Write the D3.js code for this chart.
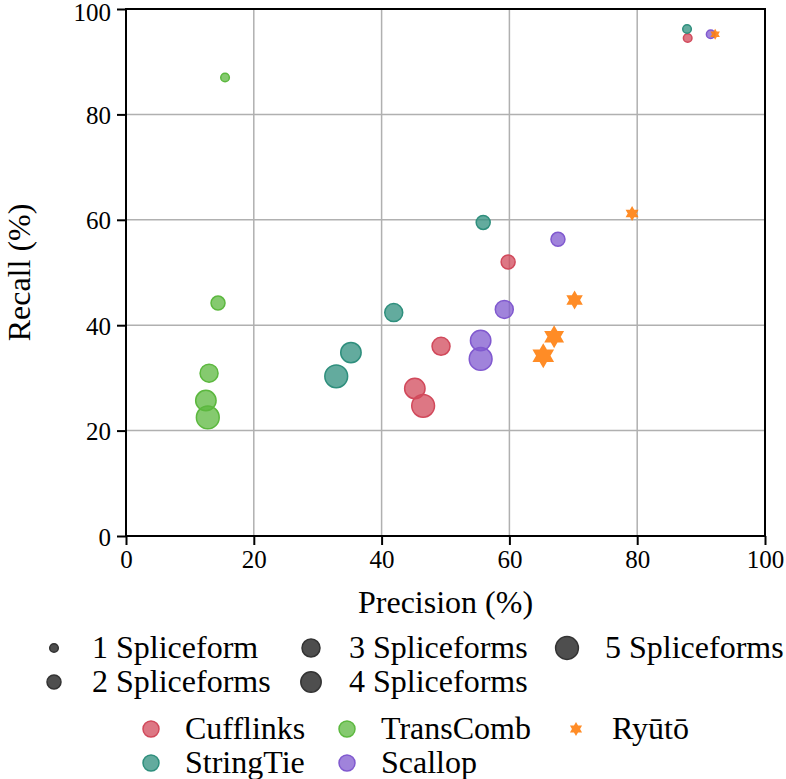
<!DOCTYPE html>
<html>
<head>
<meta charset="utf-8">
<script src="https://cdn.jsdelivr.net/npm/d3@7"></script>
</head>
<body style="margin:0;padding:0;background:#fff">
<svg id="chart" width="786" height="779" style="display:block"></svg>
<script>
// ---- data ----
const levels = [1, 2, 3, 4, 5];
const sizeLabels = ["1 Spliceform", "2 Spliceforms", "3 Spliceforms", "4 Spliceforms", "5 Spliceforms"];
const tools = ["Cufflinks", "StringTie", "TransComb", "Scallop", "Ryūtō"];
const cufflinksPrecision = [87.9, 59.8, 49.3, 45.2, 46.5];
const cufflinksRecall    = [94.5, 52.0, 36.0, 28.0, 24.7];
const stringtiePrecision = [87.8, 55.9, 41.9, 35.2, 32.9];
const stringtieRecall    = [96.2, 59.5, 42.4, 34.8, 30.3];
const transcombPrecision = [15.5, 14.4, 13.0, 12.5, 12.8];
const transcombRecall    = [87.0, 44.2, 30.9, 25.7, 22.5];
const scallopPrecision   = [91.5, 67.6, 59.2, 55.5, 55.5];
const scallopRecall      = [95.2, 56.3, 43.0, 37.1, 33.6];
const ryutoPrecision     = [92.2, 79.2, 70.2, 67.0, 65.3];
const ryutoRecall        = [95.2, 61.2, 44.8, 37.8, 34.2];
const xTicks = [0, 20, 40, 60, 80, 100];
const yTicks = [0, 20, 40, 60, 80, 100];

const toolColors = ["#d1495b", "#2f8f7d", "#5cb83f", "#8059cf", "#ff7f0e"];
const precisions = [cufflinksPrecision, stringtiePrecision, transcombPrecision, scallopPrecision, ryutoPrecision];
const recalls = [cufflinksRecall, stringtieRecall, transcombRecall, scallopRecall, ryutoRecall];

const points = [];
tools.forEach((t, i) => levels.forEach((l, j) => points.push({tool: t, ti: i, level: l, p: precisions[i][j], r: recalls[i][j]})));

// ---- layout ----
const W = 786, H = 779;
const FONT = '"Liberation Serif", "DejaVu Serif", "Noto Serif", FreeSerif, serif';
const margin = {left: 126, right: 21, top: 9, bottom: 243};
const svg = d3.select("#chart");
const x = d3.scaleLinear().domain([0, 100]).range([margin.left, W - margin.right]);
const y = d3.scaleLinear().domain([0, 100]).range([H - margin.bottom, margin.top]);
const rScale = d3.scaleOrdinal().domain(levels).range([4.3, 7, 9, 10.2, 11.4]);
const starScale = d3.scaleOrdinal().domain(levels).range([5.5, 7.5, 9.5, 11.5, 12.5]);
const color = d3.scaleOrdinal().domain(tools).range(toolColors);

function addText(parent) {
  return parent.append("text").style("font-family", FONT).attr("fill", "#000");
}

// grid
svg.append("g").selectAll("line").data(xTicks.slice(1, -1)).join("line")
  .attr("x1", d => x(d)).attr("x2", d => x(d)).attr("y1", y(0)).attr("y2", y(100))
  .attr("stroke", "#b0b0b0").attr("stroke-width", 1.5);
svg.append("g").selectAll("line").data(yTicks.slice(1, -1)).join("line")
  .attr("y1", d => y(d)).attr("y2", d => y(d)).attr("x1", x(0)).attr("x2", x(100))
  .attr("stroke", "#b0b0b0").attr("stroke-width", 1.5);

function hexagram(R) {
  const pts = [];
  const ri = R / Math.sqrt(3);
  for (let k = 0; k < 12; k++) {
    const a = -Math.PI / 2 + k * Math.PI / 6;
    const rr = k % 2 === 0 ? R : ri;
    pts.push([rr * Math.cos(a), rr * Math.sin(a)]);
  }
  return "M" + pts.map(p => p[0].toFixed(2) + "," + p[1].toFixed(2)).join("L") + "Z";
}

// points
const g = svg.append("g");
points.forEach(d => {
  const cx = x(d.p), cy = y(d.r);
  if (d.tool === "Ryūtō") {
    g.append("path").attr("d", hexagram(starScale(d.level)))
      .attr("transform", `translate(${cx},${cy})`)
      .attr("fill", color(d.tool)).attr("fill-opacity", 0.9);
  } else {
    g.append("circle").attr("cx", cx).attr("cy", cy).attr("r", rScale(d.level))
      .attr("fill", color(d.tool)).attr("fill-opacity", 0.75)
      .attr("stroke", color(d.tool)).attr("stroke-width", 1.5);
  }
});

// frame
svg.append("rect").attr("x", x(0)).attr("y", y(100)).attr("width", x(100) - x(0)).attr("height", y(0) - y(100))
  .attr("fill", "none").attr("stroke", "#000").attr("stroke-width", 2);

// axes
const xAxis = svg.append("g").attr("transform", `translate(0,${y(0)})`)
  .call(d3.axisBottom(x).tickValues(xTicks).tickSize(9).tickPadding(5).tickFormat(d3.format("d")));
const yAxis = svg.append("g").attr("transform", `translate(${x(0)},0)`)
  .call(d3.axisLeft(y).tickValues(yTicks).tickSize(9).tickPadding(6).tickFormat(d3.format("d")));
[xAxis, yAxis].forEach(a => {
  a.attr("font-family", FONT);
  a.select(".domain").remove();
  a.selectAll(".tick line").attr("stroke", "#000").attr("stroke-width", 2);
  a.selectAll(".tick text").style("font-family", FONT).attr("font-size", 25).attr("fill", "#000");
});
yAxis.selectAll(".tick text").attr("dy", "0.36em");
yAxis.selectAll(".tick").filter(d => d === 100).select("text").attr("dy", "0.46em");

addText(svg).attr("x", (x(0) + x(100)) / 2).attr("y", 613)
  .attr("text-anchor", "middle").attr("font-size", 32).text("Precision (%)");
addText(svg).attr("transform", `translate(30,${(y(0) + y(100)) / 2}) rotate(-90)`)
  .attr("text-anchor", "middle").attr("font-size", 32).text("Recall (%)");

// size legend
const sizeCols = [54, 311, 567];
const sizeRows = [648, 682];
levels.forEach((l, i) => {
  const col = Math.floor(i / 2), row = i % 2;
  const cx = sizeCols[col], cy = sizeRows[row];
  svg.append("circle").attr("cx", cx).attr("cy", cy).attr("r", rScale(l))
    .attr("fill", "#444").attr("fill-opacity", 0.95).attr("stroke", "#333").attr("stroke-width", 1.5);
  addText(svg).attr("x", cx + 38).attr("y", cy + 10).attr("font-size", 32).text(sizeLabels[i]);
});

// tool legend
const toolCols = [151, 347, 576];
const toolRows = [729, 763];
tools.forEach((t, i) => {
  const col = Math.floor(i / 2), row = i % 2;
  const cx = toolCols[col], cy = toolRows[row];
  if (t === "Ryūtō") {
    svg.append("path").attr("d", hexagram(7)).attr("transform", `translate(${cx},${cy})`)
      .attr("fill", color(t)).attr("fill-opacity", 0.9);
  } else {
    svg.append("circle").attr("cx", cx).attr("cy", cy).attr("r", 8)
      .attr("fill", color(t)).attr("fill-opacity", 0.75).attr("stroke", color(t)).attr("stroke-width", 1.5);
  }
  addText(svg).attr("x", cx + (t === "Ryūtō" ? 36 : 34)).attr("y", cy + 10).attr("font-size", 32).text(t);
});
</script>
</body>
</html>
